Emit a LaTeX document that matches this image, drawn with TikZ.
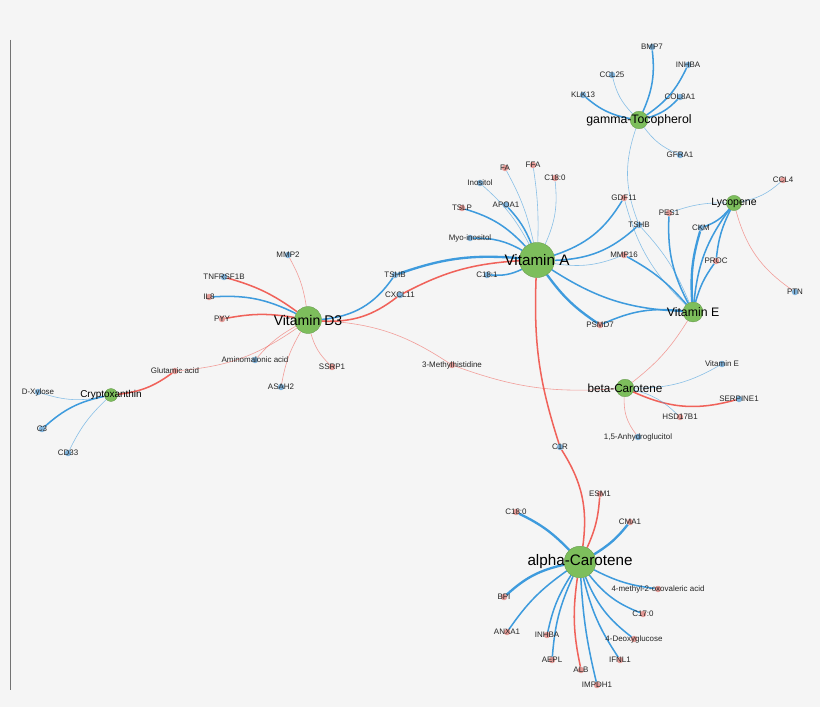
\documentclass[tikz,border=0pt]{standalone}
\usepackage{fontspec}
\setmainfont{Liberation Sans}
\usetikzlibrary{backgrounds}
\definecolor{edgered}{HTML}{F0625A}
\definecolor{edgeblue}{HTML}{3E9BDD}
\definecolor{dotred}{HTML}{E39A96}
\definecolor{dotblue}{HTML}{7FB2DA}
\definecolor{hubgreen}{HTML}{7DBE5C}
\begin{document}
\begin{tikzpicture}[x=0.03cm,y=-0.03cm,
    dot/.style={circle, fill=dot#1, inner sep=0pt, minimum size=5.5pt},
    hub/.style={circle, fill=hubgreen, draw=hubgreen!80!black, line width=0.3pt, inner sep=0pt, minimum size=#1},
    lbl/.style={font=\fontsize{6.8}{7}\selectfont, text=black!85},
    r/.style={edgered, line width=0.5pt, opacity=0.6},
    R/.style={edgered, line width=1.3pt},
    b/.style={edgeblue, line width=0.5pt, opacity=0.6},
    B/.style={edgeblue, line width=1.3pt},
    BB/.style={edgeblue, line width=2pt}]
    \useasboundingbox (0,0) rectangle (820,707);

    % hubs
    \node[hub=30] (vA) at (537,260) {};
    \node[hub=23] (vD) at (308,320) {};
    \node[hub=15] (gT) at (639,120) {};
    \node[hub=17] (vE) at (693,312) {};
    \node[hub=13] (lyc) at (734,203) {};
    \node[hub=15] (bC) at (625,388) {};
    \node[hub=27] (aC) at (580,562) {};
    \node[hub=11] (cry) at (111,395) {};

    % small nodes
    \foreach \n/\x/\y/\c in {
        bmp/652/47/blue, inhA/688/65/blue, ccl25/612/75/blue,
        klk/583/95/blue, col/680/97/blue, gfra/680/155/blue,
        fa/505/168/red, ffa/533/165/red, cA/555/178/red,
        ino/480/183/blue, tslp/462/208/red, apoa/506/205/blue,
        gdf/624/198/red, pes/669/213/red, tshA/639/225/blue,
        ckm/701/228/blue, ccl4/783/180/red, myo/470/238/blue,
        mmp16/624/255/red, proc/716/261/red, c181/487/275/blue,
        ptn/795/292/blue, psmd/600/325/red,
        mmp2/288/255/blue, tnf/224/277/blue, il8/209/297/red,
        pyy/222/319/red, tshD/395/275/blue, cxcl/400/295/blue,
        amino/255/360/blue, ssrp/332/367/red,
        asah/281/387/blue, glu/175/371/red,
        meth/452/365/red, xyl/38/392/blue,
        c3/42/429/blue, cd33/68/453/blue,
        vEs/722/364/blue, serp/739/399/blue,
        hsd/680/417/red, anh/638/437/blue,
        c1r/560/447/blue, esm/600/494/red, cB/516/512/red,
        cma/630/522/red, meox/658/589/red,
        bpi/504/597/red, c17/643/614/red, anx/507/632/red,
        inhB/547/635/red, deox/634/639/red,
        aepl/552/660/red, ifn/620/660/red, alb/581/670/red,
        imp/597/685/red}
        \node[dot=\c] (\n) at (\x,\y) {};

    % edges
    \begin{scope}[on background layer]
        \fill[black!4] (0,0) rectangle (820,707);
        \draw[black!55, line width=0.6pt] (10,40) -- (10,690);
        \foreach \a/\e/\s/\k in {
            vA/fa/b/-8, vA/ffa/b/-5, vA/cA/b/-15, vA/ino/b/-10, vA/tslp/B/-15,
            vA/apoa/B/-10, vA/gdf/B/-20, vA/tshA/B/-20, vA/myo/B/-15, vA/mmp16/b/-15,
            vA/vE/B/-15, vA/c181/B/15, vA/psmd/BB/-10, vA/tshD/BB/-12, vA/cxcl/R/-12,
            vA/c1r/R/-10,
            gT/bmp/B/-15, gT/inhA/B/-15, gT/ccl25/b/15, gT/klk/B/15, gT/col/B/-15,
            gT/gfra/b/-15, gT/tshA/b/-20,
            vE/tshA/b/-10, vE/mmp16/B/-10, vE/pes/B/15, vE/ckm/BB/10, vE/proc/B/10,
            vE/psmd/B/-15, vE/lyc/B/15, vE/gdf/b/15, vE/bC/r/10,
            lyc/ccl4/b/-15, lyc/ckm/B/15, lyc/proc/B/-10, lyc/pes/b/-10, lyc/ptn/r/-20,
            vD/mmp2/r/-10, vD/tnf/R/-10, vD/il8/B/-15, vD/pyy/R/-10, vD/tshD/B/-25,
            vD/cxcl/R/-20, vD/amino/r/-10, vD/ssrp/r/-15, vD/asah/r/-10, vD/glu/r/15,
            vD/meth/r/15,
            cry/glu/R/-15, cry/xyl/b/15, cry/c3/B/-15, cry/cd33/b/-10,
            bC/vEs/b/-15, bC/serp/R/-20, bC/hsd/b/15, bC/anh/r/-20, bC/meth/r/12,
            c1r/aC/R/20,
            aC/esm/R/-10, aC/cB/BB/-10, aC/cma/BB/-10, aC/meox/B/-10, aC/bpi/BB/-15,
            aC/c17/B/-15, aC/anx/B/-10, aC/inhB/B/-10, aC/deox/B/-15, aC/aepl/B/-10,
            aC/ifn/B/-10, aC/alb/R/-10, aC/imp/B/-5}
            \draw[\s] (\a) to[bend left=\k] (\e);
    \end{scope}

    % small labels
    \foreach \n/\t in {
        bmp/BMP7, inhA/INHBA, ccl25/CCL25, klk/KLK13, col/COL8A1, gfra/GFRA1,
        fa/FA, ffa/FFA, cA/C18:0, ino/Inositol, tslp/TSLP, apoa/APOA1, gdf/GDF11,
        pes/PES1, tshA/TSHB, ckm/CKM, ccl4/CCL4, myo/Myo-inositol, mmp16/MMP16,
        proc/PROC, c181/C18:1, ptn/PTN, psmd/PSMD7, mmp2/MMP2, tnf/TNFRSF1B,
        il8/IL8, pyy/PYY, tshD/TSHB, cxcl/CXCL11, amino/Aminomalonic acid,
        ssrp/SSRP1, asah/ASAH2, glu/Glutamic acid, meth/3-Methylhistidine,
        xyl/D-Xylose, c3/C3, cd33/CD33, vEs/Vitamin E, serp/SERPINE1,
        hsd/HSD17B1, anh/{1,5-Anhydroglucitol}, c1r/C1R, esm/ESM1, cB/C18:0,
        cma/CMA1, meox/4-methyl-2-oxovaleric acid, bpi/BPI, c17/C17:0,
        anx/ANXA1, inhB/INHBA, deox/4-Deoxyglucose, aepl/AEPL, ifn/IFNL1,
        alb/ALB, imp/IMPDH1}
        \node[lbl] at (\n) {\t};

    % hub labels
    \node[font=\fontsize{13}{14}\selectfont] at (vA) {Vitamin A};
    \node[font=\fontsize{12}{14}\selectfont] at (vD) {Vitamin D3};
    \node[font=\fontsize{10.5}{12}\selectfont] at (gT) {gamma-Tocopherol};
    \node[font=\fontsize{10.5}{12}\selectfont] at (vE) {Vitamin E};
    \node[font=\fontsize{9}{10}\selectfont] at (lyc) {Lycopene};
    \node[font=\fontsize{10}{12}\selectfont] at (bC) {beta-Carotene};
    \node[font=\fontsize{13}{14}\selectfont] at (aC) {alpha-Carotene};
    \node[font=\fontsize{8.5}{10}\selectfont] at (cry) {Cryptoxanthin};
\end{tikzpicture}
\end{document}
